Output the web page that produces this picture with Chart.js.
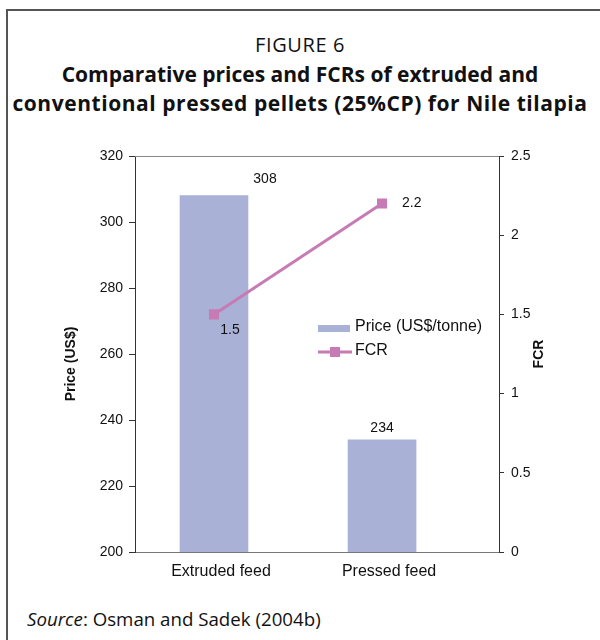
<!DOCTYPE html>
<html>
<head>
<meta charset="utf-8">
<script src="https://cdn.jsdelivr.net/npm/chart.js@4.4.1/dist/chart.umd.min.js"></script>
<style>
  html, body { margin: 0; padding: 0; background: #fff; }
  #figura { position: relative; width: 600px; height: 640px; overflow: hidden; }
  #moldura { position: absolute; left: 6px; top: 9px; width: 700px; height: 700px; border-left: 2px solid #555; border-top: 2px solid #555; }
  .titulo { position: absolute; left: 0; width: 600px; text-align: center; color: #111; font-family: "Open Sans", sans-serif; white-space: nowrap; }
  #fig { top: 31px; font-size: 20px; letter-spacing: 0.6px; }
  #l1 { top: 60px; font-size: 21px; font-weight: bold; }
  #l2 { top: 89px; font-size: 21px; font-weight: bold; letter-spacing: 0.55px; }
  #fonte { position: absolute; left: 27px; top: 606px; font-size: 18.7px; color: #111; font-family: "Open Sans", sans-serif; }
  canvas { position: absolute; left: 0; top: 0; }
</style>
</head>
<body>
<div id="figura">
  <div id="moldura"></div>
  <div class="titulo" id="fig">FIGURE 6</div>
  <div class="titulo" id="l1">Comparative prices and FCRs of extruded and</div>
  <div class="titulo" id="l2">conventional pressed pellets (25%CP) for Nile tilapia</div>
  <div id="fonte"><i>Source</i>: Osman and Sadek (2004b)</div>
  <canvas id="grafico" width="600" height="640"></canvas>
</div>
<script>
// dados
const categorias = ["Extruded feed", "Pressed feed"];
const precos = [308, 234];
const fcr = [1.5, 2.2];
const ticksPreco = [200, 220, 240, 260, 280, 300, 320];
const ticksFcr = [0, 0.5, 1, 1.5, 2, 2.5];

const corBarra = "#a9b1d7";
const corLinha = "#c77bb4";
const fonteEixo = "Liberation Sans, Arial, sans-serif";

// rótulos de valor (deslocamento em px a partir do ponto)
const deslocPreco = [[51, -16], [0, -12]];
const deslocFcr = [[16, 16], [20, 0]];

const pluginExtras = {
  id: "extras",
  afterDatasetsDraw(chart) {
    const ctx = chart.ctx;
    const area = chart.chartArea;
    ctx.save();

    // linha superior da área do gráfico
    ctx.strokeStyle = "#888";
    ctx.lineWidth = 1;
    ctx.beginPath();
    ctx.moveTo(area.left, area.top + 0.5);
    ctx.lineTo(area.right, area.top + 0.5);
    ctx.stroke();

    ctx.fillStyle = "#111";
    ctx.font = "14px " + fonteEixo;
    ctx.textBaseline = "middle";

    chart.getDatasetMeta(0).data.forEach((el, i) => {
      ctx.textAlign = "center";
      ctx.fillText(String(precos[i]), el.x + deslocPreco[i][0], el.y + deslocPreco[i][1]);
    });
    chart.getDatasetMeta(1).data.forEach((el, i) => {
      ctx.textAlign = i === 0 ? "center" : "left";
      ctx.fillText(String(fcr[i]), el.x + deslocFcr[i][0], el.y + deslocFcr[i][1]);
    });

    // legenda dentro da área
    const lx = area.left + 183;
    const ly = area.top + 172;
    ctx.fillStyle = corBarra;
    ctx.fillRect(lx, ly - 3, 32, 7);
    ctx.strokeStyle = corLinha;
    ctx.lineWidth = 3;
    ctx.beginPath();
    ctx.moveTo(lx, ly + 24);
    ctx.lineTo(lx + 34, ly + 24);
    ctx.stroke();
    ctx.fillStyle = corLinha;
    ctx.fillRect(lx + 12, ly + 19, 10, 10);
    ctx.fillStyle = "#111";
    ctx.textAlign = "left";
    ctx.font = "16px " + fonteEixo;
    ctx.fillText(chart.data.datasets[0].label, lx + 37, ly - 1);
    ctx.fillText(chart.data.datasets[1].label, lx + 37, ly + 23);

    // títulos dos eixos
    ctx.font = "bold 14px " + fonteEixo;
    ctx.textAlign = "center";
    ctx.save();
    ctx.translate(71, (area.top + area.bottom) / 2 + 10);
    ctx.rotate(-Math.PI / 2);
    ctx.fillText("Price (US$)", 0, 0);
    ctx.restore();
    ctx.save();
    ctx.translate(539, (area.top + area.bottom) / 2);
    ctx.rotate(-Math.PI / 2);
    ctx.fillText("FCR", 0, 0);
    ctx.restore();

    ctx.restore();
  }
};

new Chart(document.getElementById("grafico"), {
  type: "bar",
  data: {
    datasets: [
      {
        label: "Price (US$/tonne)",
        data: precos.map((v, i) => ({ x: i, y: v })),
        backgroundColor: corBarra,
        barThickness: 68,
        yAxisID: "y",
        order: 2
      },
      {
        type: "line",
        label: "FCR",
        data: fcr.map((v, i) => ({ x: i, y: v })),
        borderColor: corLinha,
        backgroundColor: corLinha,
        borderWidth: 3,
        pointStyle: "rect",
        pointRadius: 5,
        pointHoverRadius: 5,
        yAxisID: "y2",
        order: 1
      }
    ]
  },
  options: {
    responsive: false,
    animation: false,
    events: [],
    layout: { padding: { top: 156, left: 0, right: 0, bottom: 0 } },
    plugins: { legend: { display: false }, tooltip: { enabled: false } },
    scales: {
      x: {
        type: "linear",
        min: -0.47,
        max: 1.696,
        offset: false,
        bounds: "data",
        grace: 0,
        grid: { display: false, offset: false },
        border: { display: true, color: "#777", width: 1 },
        afterBuildTicks: scale => { scale.ticks = categorias.map((c, i) => ({ value: i })); },
        afterFit: scale => { scale.height = 88; },
        ticks: {
          callback: v => categorias[v],
          color: "#111",
          font: { family: fonteEixo, size: 16 },
          padding: 2,
          labelOffset: 7,
          maxRotation: 0,
          autoSkip: false
        }
      },
      y: {
        position: "left",
        min: ticksPreco[0],
        max: ticksPreco[ticksPreco.length - 1],
        afterBuildTicks: scale => { scale.ticks = ticksPreco.map(v => ({ value: v })); },
        afterFit: scale => { scale.width = 135; },
        grid: { drawOnChartArea: false, drawTicks: true, tickLength: 6, color: "#333" },
        border: { color: "#333", width: 1 },
        ticks: { color: "#111", font: { family: fonteEixo, size: 14 }, padding: 6 }
      },
      y2: {
        position: "right",
        min: ticksFcr[0],
        max: ticksFcr[ticksFcr.length - 1],
        afterBuildTicks: scale => { scale.ticks = ticksFcr.map(v => ({ value: v })); },
        afterFit: scale => { scale.width = 101; },
        grid: { drawOnChartArea: false, drawTicks: true, tickLength: 5, color: "#333" },
        border: { color: "#333", width: 1 },
        ticks: { callback: v => String(v), color: "#111", font: { family: fonteEixo, size: 14 }, padding: 7 }
      }
    }
  },
  plugins: [pluginExtras]
});
</script>
</body>
</html>
